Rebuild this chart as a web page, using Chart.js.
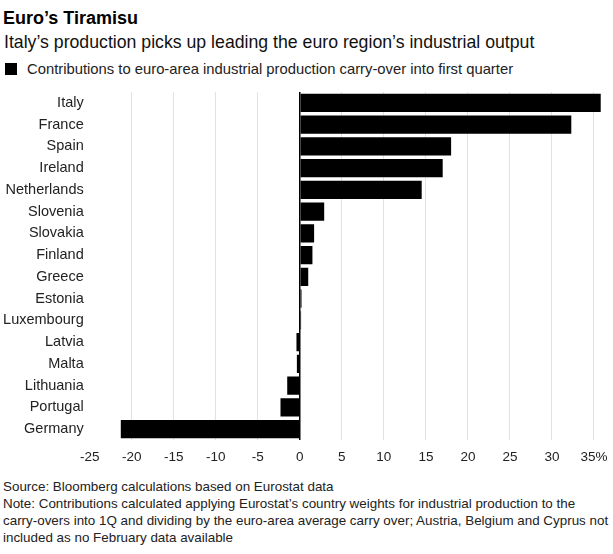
<!DOCTYPE html>
<html>
<head>
<meta charset="utf-8">
<script src="https://cdn.jsdelivr.net/npm/chart.js@4"></script>
<style>
  html, body { margin: 0; padding: 0; background: #fff; }
  body { width: 613px; height: 554px; position: relative; overflow: hidden; font-family: "Liberation Sans", Arial, sans-serif; color: #000; }
  .t { position: absolute; white-space: nowrap; line-height: 1; }
  #title { left: 3px; top: 9px; font-size: 18px; font-weight: bold; }
  #subtitle { left: 4px; top: 34px; font-size: 17.7px; color: #111; }
  #legend { left: 5px; top: 62px; font-size: 14.8px; color: #222; }
  #legend .box { display: inline-block; width: 12px; height: 12px; background: #000; vertical-align: -1px; margin-right: 10px; }
  #footer { left: 3px; top: 478px; font-size: 13.4px; line-height: 17px; color: #222; white-space: nowrap; }
  #wrap { position: absolute; left: 0; top: 0; width: 613px; height: 554px; }
</style>
</head>
<body>
<div class="t" id="title">Euro’s Tiramisu</div>
<div class="t" id="subtitle">Italy’s production picks up leading the euro region’s industrial output</div>
<div class="t" id="legend"><span class="box"></span>Contributions to euro-area industrial production carry-over into first quarter</div>
<div class="t" id="footer">Source: Bloomberg calculations based on Eurostat data<br>Note: Contributions calculated applying Eurostat’s country weights for industrial production to the<br>carry-overs into 1Q and dividing by the euro-area average carry over; Austria, Belgium and Cyprus not<br>included as no February data available</div>
<div id="wrap"><canvas id="c" width="613" height="554"></canvas></div>
<script>
const countries = ["Italy","France","Spain","Ireland","Netherlands","Slovenia","Slovakia","Finland","Greece","Estonia","Luxembourg","Latvia","Malta","Lithuania","Portugal","Germany"];
const contributions = [35.8, 32.3, 18.0, 17.0, 14.5, 2.9, 1.7, 1.5, 1.0, 0.2, 0.15, -0.4, -0.35, -1.5, -2.3, -21.3];
const xTickValues = [-25, -20, -15, -10, -5, 0, 5, 10, 15, 20, 25, 30, 35];
const seriesLabel = "Contributions to euro-area industrial production carry-over into first quarter";

const FONT = "'Liberation Sans', Arial, sans-serif";

new Chart(document.getElementById('c'), {
  type: 'bar',
  data: {
    labels: countries,
    datasets: [{
      label: seriesLabel,
      data: contributions,
      backgroundColor: '#000',
      borderWidth: 0,
      categoryPercentage: 1.0,
      barPercentage: 0.85
    }]
  },
  options: {
    indexAxis: 'y',
    responsive: false,
    animation: false,
    devicePixelRatio: 1,
    layout: { padding: { top: 92, bottom: 84, left: 0, right: 10.6 } },
    plugins: { legend: { display: false }, tooltip: { enabled: false } },
    scales: {
      x: {
        type: 'linear',
        min: -25,
        max: 36,
        afterFit: s => { s.height = 30; s.paddingLeft = 0; s.paddingRight = 0; },
        afterBuildTicks: s => { s.ticks = xTickValues.map(v => ({ value: v })); },
        border: { display: false },
        grid: {
          drawTicks: false,
          color: ctx => ctx.tick && ctx.tick.value === 0 ? '#000' : (ctx.tick && ctx.tick.value === -25 ? 'rgba(0,0,0,0)' : '#e2e2e2'),
          lineWidth: ctx => ctx.tick && ctx.tick.value === 0 ? 1.5 : 1
        },
        ticks: {
          padding: 9,
          maxRotation: 0,
          autoSkip: false,
          color: '#222',
          font: { family: FONT, size: 13.5 },
          callback: v => v === 35 ? '35%' : String(v)
        }
      },
      y: {
        afterFit: s => { s.width = 89.7; },
        border: { display: false },
        grid: { display: false, drawTicks: false },
        ticks: {
          padding: 6,
          color: '#222',
          font: { family: FONT, size: 14.5 }
        }
      }
    }
  }
});
</script>
</body>
</html>
